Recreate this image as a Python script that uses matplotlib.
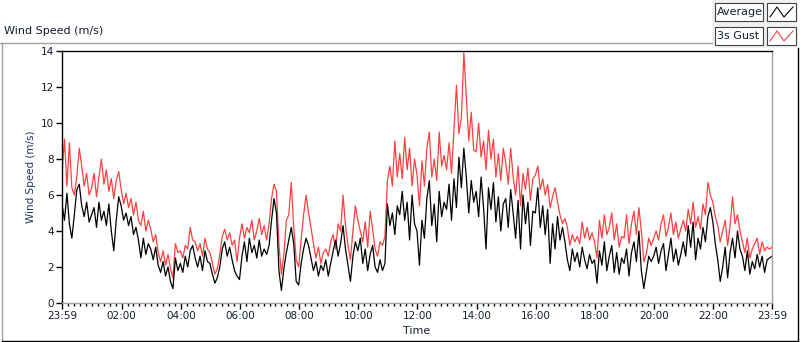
import numpy as np
import matplotlib
matplotlib.use("Agg")
import matplotlib.pyplot as plt
from matplotlib.patches import Rectangle
from matplotlib.lines import Line2D

# 5-minute samples, one row per hour from 23:59
avg_speed = [
    5.5, 4.6, 6.1, 4.4, 3.6, 4.9, 6.3, 6.6, 5.4, 4.8, 5.6, 4.5,
    4.9, 5.3, 4.2, 5.6, 4.6, 5.1, 4.3, 5.5, 4.0, 2.9, 4.6, 5.9,
    5.4, 4.6, 5.0, 4.3, 4.8, 3.8, 4.2, 3.5, 2.5, 3.6, 2.7, 3.3,
    3.0, 2.4, 3.1, 2.1, 1.7, 2.3, 1.5, 2.0, 1.2, 0.8, 2.5, 1.8,
    2.2, 1.7, 2.6, 2.0, 2.9, 3.2, 2.5, 2.0, 2.6, 1.8, 2.9, 2.3,
    2.2, 1.6, 1.1, 1.4, 2.0, 3.0, 3.4, 2.6, 3.1, 2.4, 1.8, 1.5,
    1.3, 2.6, 3.4, 2.3, 3.6, 2.8, 3.2, 2.5, 3.5, 2.6, 3.0, 2.7,
    3.2, 4.6, 5.8, 5.0, 1.8, 0.7, 1.9, 2.8, 3.5, 4.2, 3.3, 1.2,
    1.0, 2.2, 3.0, 3.6, 3.2, 2.5, 1.8, 2.3, 1.5, 2.1, 1.8, 2.4,
    1.5, 2.2, 2.9, 3.5, 2.6, 3.3, 4.3, 3.0, 2.1, 1.2, 2.6, 3.4,
    2.9, 3.6, 2.2, 3.0, 1.8, 2.7, 3.2, 2.0, 1.7, 2.4, 1.8, 2.2,
    5.5, 4.3, 5.0, 3.8, 5.4, 4.9, 6.2, 4.6, 5.6, 3.5, 6.0, 4.4,
    4.0, 2.1, 4.6, 3.6, 5.8, 6.8, 4.3, 5.5, 3.4, 6.2, 4.8, 5.6,
    5.2, 6.6, 4.6, 6.9, 5.3, 8.1, 6.4, 8.6, 7.0, 5.0, 6.8, 5.6,
    6.2, 4.8, 7.0, 5.3, 3.0, 6.4, 5.2, 6.7, 4.5, 5.9, 4.0, 5.5,
    5.8, 4.2, 6.3, 5.0, 3.6, 5.7, 3.0, 6.0, 4.4, 5.6, 3.2, 5.1,
    5.0, 6.4, 4.2, 5.4, 3.8, 5.2, 2.2, 4.4, 3.0, 4.8, 3.5, 4.2,
    3.4, 2.4, 1.8, 3.0, 2.3, 2.8, 2.0, 3.1, 2.4, 1.9, 2.7, 2.2,
    2.4, 1.1, 2.9, 2.1, 3.4, 1.8, 2.6, 3.2, 1.7, 2.8, 1.6, 2.5,
    2.2, 3.0, 1.5, 2.8, 3.4, 2.3, 4.0, 1.8, 0.8, 1.7, 2.6, 2.3,
    2.6, 3.1, 2.2, 2.9, 3.3, 1.8, 2.7, 3.6, 2.3, 3.0, 2.1, 2.7,
    3.4, 2.6, 4.3, 3.1, 4.5, 2.4, 3.6, 3.0, 4.2, 3.4, 4.8, 5.3,
    4.5, 3.3, 2.4, 1.2, 2.0, 3.1, 1.4, 2.8, 3.6, 2.5, 4.0, 3.0,
    2.6, 1.8, 2.9, 1.6, 2.3, 1.9, 2.7, 2.0, 2.6, 1.7, 2.4, 2.5,
    2.6,
]

gust_speed = [
    7.2, 9.1, 6.5, 8.9, 6.4, 6.0, 7.0, 8.6, 7.6, 6.5, 7.2, 6.0,
    6.4, 7.2, 5.9, 7.0, 8.0, 6.6, 7.4, 6.2, 6.9, 5.8, 6.8, 7.3,
    6.3, 5.5, 6.1, 5.3, 5.8, 4.9, 5.6, 4.6, 4.3, 5.1, 4.0, 4.6,
    4.1, 3.4, 3.8, 2.8, 2.3, 2.9, 2.1, 2.7, 1.9, 1.4, 3.3, 2.8,
    2.9, 2.5, 3.2, 3.0, 4.2, 3.5, 3.4, 2.9, 3.3, 2.6, 3.6, 3.0,
    2.8, 2.2, 1.6, 1.9, 2.7, 3.7, 4.1, 3.5, 3.9, 3.2, 3.5, 2.3,
    3.6, 4.4, 3.6, 4.2, 3.9, 4.6, 3.5, 4.0, 4.7, 3.8, 4.3, 3.5,
    4.4, 5.8, 6.6, 6.2, 3.2, 1.6, 2.7, 4.6, 4.9, 6.7, 4.2, 2.4,
    2.0, 3.5, 4.9, 6.0, 5.0, 4.2, 3.3, 2.5, 3.1, 2.2, 2.8, 3.0,
    2.6, 3.4, 3.8, 3.0, 4.4, 4.0, 6.0, 4.3, 3.2, 2.4, 4.0, 5.4,
    4.6, 4.0, 3.4, 4.5, 3.1, 5.1, 4.1, 3.0, 2.6, 3.4, 3.2, 3.7,
    6.8, 7.6, 6.5, 9.0, 7.0, 8.3, 6.9, 9.2, 7.4, 8.6, 6.5, 8.0,
    7.1, 5.4, 7.9, 6.5, 8.6, 9.5, 7.0, 8.0, 6.8, 9.5, 7.6, 8.2,
    7.4, 8.9, 7.2, 9.7, 12.1, 9.4, 10.3, 13.9, 11.5, 9.0, 10.6, 8.5,
    8.4, 10.0, 8.1, 9.0, 7.4, 9.6, 8.0, 9.1, 7.0, 8.3, 6.8, 8.6,
    7.8, 6.6, 8.6, 7.0, 6.0, 7.6, 5.4, 7.2, 6.3, 7.5, 5.7, 6.9,
    7.1, 7.6, 6.3, 6.9, 6.0, 6.6, 5.3, 5.9, 6.4, 5.6, 4.9, 4.4,
    4.7, 4.2, 3.2, 3.8, 3.4, 3.7, 3.3, 4.5, 3.6, 4.2, 3.5, 3.9,
    3.4, 2.5, 4.6, 3.6, 4.9, 3.8, 4.2, 5.0, 3.5, 4.4, 3.1, 3.7,
    3.6, 4.9, 3.3, 4.4, 5.1, 3.8, 5.3, 4.0, 2.3, 2.7, 3.6, 3.2,
    3.6, 4.0, 3.5, 4.4, 4.9, 3.7, 4.2, 5.0, 3.8, 4.5, 3.6, 4.1,
    4.6, 4.0, 5.2, 4.4, 5.6, 4.2, 4.8, 4.1, 5.5, 4.9, 6.7, 6.0,
    5.6, 4.8, 4.3, 3.4, 4.0, 4.6, 3.2, 4.3, 5.9, 4.4, 4.9, 4.0,
    3.4, 2.8, 3.6, 2.5, 3.0, 3.3, 3.6, 2.7, 3.4, 2.9, 3.1, 3.0,
    3.1,
]

step_min = 5
time_labels = ["23:59", "02:00", "04:00", "06:00", "08:00", "10:00", "12:00",
               "14:00", "16:00", "18:00", "20:00", "22:00", "23:59"]
y_ticks = [0, 2, 4, 6, 8, 10, 12, 14]

W, H = 800, 342


def fx(x):
    return x / W


def fy(y):
    return 1 - y / H


def label_hours(lbl):
    h, m = lbl.split(":")
    mins = (int(h) * 60 + int(m) - (23 * 60 + 59)) % 1440
    return mins / 60


hours = np.arange(len(avg_speed)) * step_min / 60
tick_pos = [label_hours(l) for l in time_labels]
tick_pos[-1] = 24.0
minor_pos = [p for p in np.arange(tick_pos[1] - 120 / 60, 24, 0.2) if p > 0.05 and p < 23.95]

fig = plt.figure(figsize=(8, 3.42), dpi=100)
fig.patch.set_facecolor("white")

ax = fig.add_axes([fx(62), fy(303), fx(772) - fx(62), fy(51) - fy(303)])
ax.plot(hours, gust_speed, color="#ff4040", lw=0.9)
ax.plot(hours, avg_speed, color="black", lw=0.9)
ax.set_xlim(0, 24)
ax.set_ylim(0, 14)
ax.set_yticks(y_ticks)
ax.set_xticks(tick_pos)
ax.set_xticklabels(time_labels)
ax.set_xticks(minor_pos, minor=True)
ax.tick_params(axis="both", which="major", labelsize=7.5, length=4, width=1,
               color="black", labelcolor="#141c30", pad=2)
ax.tick_params(axis="x", which="minor", length=2.5, width=1, color="black")
ax.spines["left"].set_color("black")
ax.spines["top"].set_color("black")
ax.spines["right"].set_color("#a0a0a0")
ax.spines["bottom"].set_color("#a0a0a0")
for s in ax.spines.values():
    s.set_linewidth(1)
ax.set_ylabel("Wind Speed (m/s)", fontsize=7.5, color="#1f3864", labelpad=3)
ax.set_xlabel("Time", fontsize=8, color="#141c30", labelpad=3)

# outer frame
fig.add_artist(Line2D([fx(0), fx(712)], [fy(42.5), fy(42.5)], color="#a0a0a0", lw=1))
fig.add_artist(Line2D([fx(1.5), fx(1.5)], [fy(42.5), fy(341)], color="#a0a0a0", lw=1))
fig.add_artist(Line2D([fx(798), fx(798)], [fy(48), fy(341)], color="black", lw=1))
fig.add_artist(Line2D([fx(1.5), fx(798)], [fy(340.5), fy(340.5)], color="black", lw=1))
fig.text(fx(4), fy(31), "Wind Speed (m/s)", fontsize=8, color="#141c30", va="center")

# legend panel
fig.add_artist(Rectangle((fx(712), fy(48)), fx(798) - fx(712), fy(0) - fy(48),
                         facecolor="#f0f0f0", edgecolor="none"))
for name, col, top in [("Average", "black", 3), ("3s Gust", "#ff4040", 27)]:
    fig.add_artist(Rectangle((fx(715), fy(top + 18)), fx(763) - fx(715), fy(top) - fy(top + 18),
                             facecolor="white", edgecolor="#404040", lw=0.8))
    fig.text(fx(717), fy(top + 9), name, fontsize=8, color="#141c30", va="center")
    fig.add_artist(Rectangle((fx(767), fy(top + 18)), fx(796) - fx(767), fy(top) - fy(top + 18),
                             facecolor="white", edgecolor="#404040", lw=0.8))
    ix = [fx(770), fx(777), fx(784), fx(793)]
    iy = [fy(top + 14), fy(top + 4), fy(top + 14), fy(top + 4)]
    fig.add_artist(Line2D(ix, iy, color=col, lw=0.8))

fig.savefig("out.png", dpi=100)
